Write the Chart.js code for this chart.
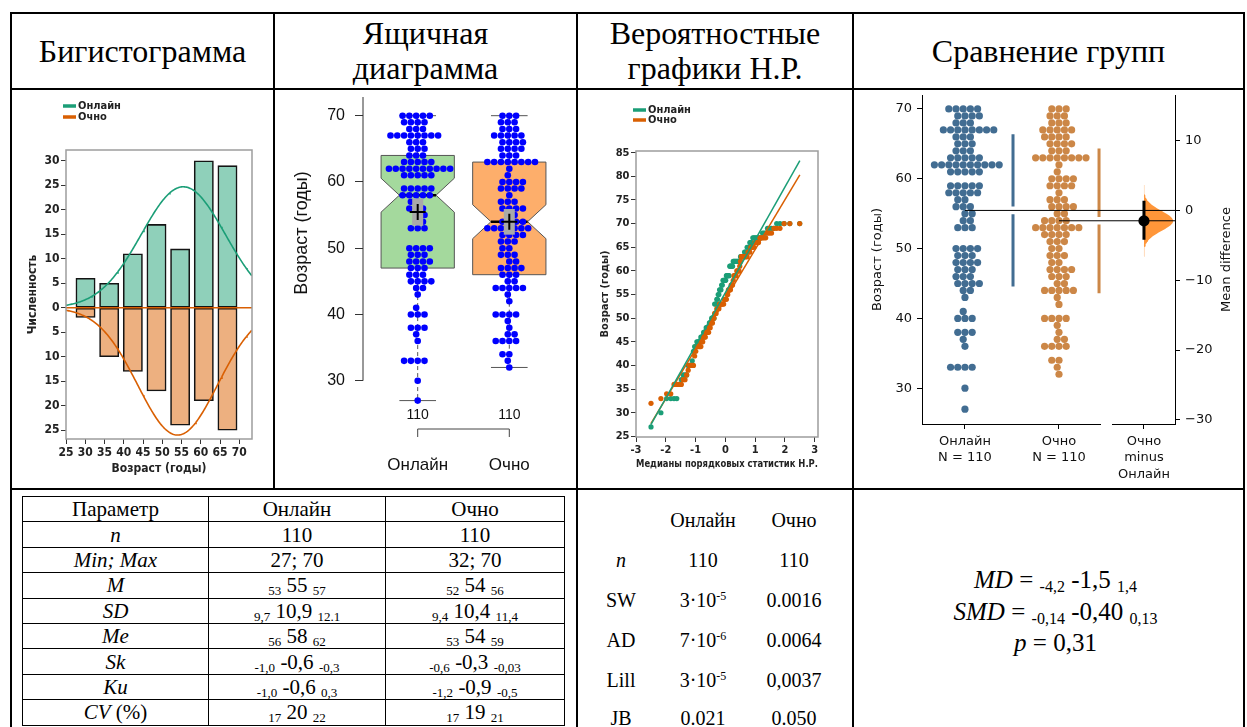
<!DOCTYPE html>
<html lang="ru">
<head>
<meta charset="utf-8">
<title>Возраст: онлайн и очно</title>
<script src="https://cdn.jsdelivr.net/npm/chart.js@4.4.1/dist/chart.umd.min.js"></script>
<style>
  html,body{margin:0;padding:0;background:#fff;}
  body{position:relative;width:1247px;height:727px;overflow:hidden;font-family:'Liberation Serif','Times New Roman',serif;color:#000;}
  .ln{position:absolute;background:#000;}
  .hd{position:absolute;top:14px;height:74px;display:flex;align-items:center;justify-content:center;text-align:center;font-size:32px;line-height:35px;}
  canvas{position:absolute;top:90px;}
  #stats{position:absolute;left:22px;top:496px;width:542px;border-collapse:collapse;table-layout:fixed;font-size:21px;}
  #stats td{border:1px solid #000;text-align:center;padding:0;height:24.4px;line-height:22px;white-space:nowrap;}
  .sb{font-size:13px;vertical-align:-3px;line-height:0;}
  .c{position:absolute;transform:translate(-50%,-50%);font-size:20px;white-space:nowrap;}
  .c sup{font-size:12px;vertical-align:7px;line-height:0;}
  .f{position:absolute;left:868px;width:375px;text-align:center;font-size:25px;line-height:31px;white-space:nowrap;}
  .f .sb{font-size:16px;vertical-align:-4px;}
</style>
</head>
<body>
<!-- table grid -->
<div class="ln" style="left:10px;top:12px;width:1235px;height:2px"></div>
<div class="ln" style="left:10px;top:88px;width:1235px;height:2px"></div>
<div class="ln" style="left:10px;top:488px;width:1235px;height:2px"></div>
<div class="ln" style="left:10px;top:12px;width:2px;height:715px"></div>
<div class="ln" style="left:1243px;top:12px;width:2px;height:715px"></div>
<div class="ln" style="left:273px;top:12px;width:2px;height:478px"></div>
<div class="ln" style="left:576px;top:12px;width:2px;height:715px"></div>
<div class="ln" style="left:852px;top:12px;width:2px;height:715px"></div>

<div class="hd" style="left:12px;width:261px">Бигистограмма</div>
<div class="hd" style="left:275px;width:301px">Ящичная<br>диаграмма</div>
<div class="hd" style="left:578px;width:274px">Вероятностные<br>графики Н.Р.</div>
<div class="hd" style="left:854px;width:389px">Сравнение групп</div>

<canvas id="hist" width="261" height="398" style="left:12px"></canvas>
<canvas id="box" width="301" height="398" style="left:275px"></canvas>
<canvas id="qq" width="274" height="398" style="left:578px"></canvas>
<canvas id="ga" width="389" height="398" style="left:854px"></canvas>

<table id="stats">
  <colgroup><col style="width:186px"><col style="width:177px"><col style="width:179px"></colgroup>
  <tr><td>Параметр</td><td>Онлайн</td><td>Очно</td></tr>
  <tr><td><i>n</i></td><td>110</td><td>110</td></tr>
  <tr><td><i>Min; Max</i></td><td>27; 70</td><td>32; 70</td></tr>
  <tr><td><i>M</i></td><td><span class="sb">53</span> 55 <span class="sb">57</span></td><td><span class="sb">52</span> 54 <span class="sb">56</span></td></tr>
  <tr><td><i>SD</i></td><td><span class="sb">9,7</span> 10,9 <span class="sb">12.1</span></td><td><span class="sb">9,4</span> 10,4 <span class="sb">11,4</span></td></tr>
  <tr><td><i>Me</i></td><td><span class="sb">56</span> 58 <span class="sb">62</span></td><td><span class="sb">53</span> 54 <span class="sb">59</span></td></tr>
  <tr><td><i>Sk</i></td><td><span class="sb">-1,0</span> -0,6 <span class="sb">-0,3</span></td><td><span class="sb">-0,6</span> -0,3 <span class="sb">-0,03</span></td></tr>
  <tr><td><i>Ku</i></td><td><span class="sb">-1,0</span> -0,6 <span class="sb">0,3</span></td><td><span class="sb">-1,2</span> -0,9 <span class="sb">-0,5</span></td></tr>
  <tr><td><i>CV</i> (%)</td><td><span class="sb">17</span> 20 <span class="sb">22</span></td><td><span class="sb">17</span> 19 <span class="sb">21</span></td></tr>
</table>

<div class="c" style="left:703px;top:520px">Онлайн</div>
<div class="c" style="left:794px;top:520px">Очно</div>
<div class="c" style="left:621px;top:560px"><i>n</i></div>
<div class="c" style="left:703px;top:560px">110</div>
<div class="c" style="left:794px;top:560px">110</div>
<div class="c" style="left:621px;top:600px">SW</div>
<div class="c" style="left:703px;top:600px">3·10<sup>-5</sup></div>
<div class="c" style="left:794px;top:600px">0.0016</div>
<div class="c" style="left:621px;top:640px">AD</div>
<div class="c" style="left:703px;top:640px">7·10<sup>-6</sup></div>
<div class="c" style="left:794px;top:640px">0.0064</div>
<div class="c" style="left:621px;top:680px">Lill</div>
<div class="c" style="left:703px;top:680px">3·10<sup>-5</sup></div>
<div class="c" style="left:794px;top:680px">0,0037</div>
<div class="c" style="left:621px;top:718px">JB</div>
<div class="c" style="left:703px;top:718px">0.021</div>
<div class="c" style="left:794px;top:718px">0.050</div>

<div class="f" style="top:564px"><i>MD</i> = <span class="sb">-4,2</span> -1,5 <span class="sb">1,4</span></div>
<div class="f" style="top:596px"><i>SMD</i> = <span class="sb">-0,14</span> -0,40 <span class="sb">0,13</span></div>
<div class="f" style="top:627px"><i>p</i> = 0,31</div>

<script>
// ---------- data: age (years) frequency tables per group ----------
const groups = ['Онлайн', 'Очно'];
const onlineAges   = [27,30,33,36,37,38,40,41,43,44,45,46,47,48,49,50,53,54,55,56,57,58,59,61,62,63,64,65,66,67,68,69,70];
const onlineCounts = [ 1, 1, 4, 1, 1, 3, 3, 1, 1, 2, 4, 3, 3, 4, 3, 4, 3, 2, 2, 3, 2, 5, 5, 5,10, 5, 3, 3, 3, 8, 3, 4, 5];
const ochnoAges    = [32,33,34,36,37,38,39,40,42,43,44,45,46,47,48,49,50,51,52,53,54,55,56,57,58,59,60,61,62,63,64,65,66,67,68,69,70];
const ochnoCounts  = [ 1, 1, 2, 4, 2, 1, 1, 4, 1, 1, 5, 2, 3, 4, 2, 3, 2, 3, 4, 7, 4, 2, 4, 3, 1, 4, 4, 1, 1, 8, 3, 4, 4, 5, 3, 3, 3];

// histogram bins
const binEdges  = [27, 33.14, 39.29, 45.43, 51.57, 57.71, 63.86, 70];
const binOnline = [6, 5, 11, 17, 12, 30, 29];
const binOchno  = [2, 10, 13, 17, 24, 19, 25];

// tick values
const histXTicks = [25, 30, 35, 40, 45, 50, 55, 60, 65, 70];
const histYTicks = [-25, -20, -15, -10, -5, 0, 5, 10, 15, 20, 25, 30];
const boxYTicks  = [30, 40, 50, 60, 70];
const qqXTicks   = [-3, -2, -1, 0, 1, 2, 3];
const qqYTicks   = [25, 30, 35, 40, 45, 50, 55, 60, 65, 70, 75, 80, 85];
const gaYTicks   = [30, 40, 50, 60, 70];
const gaDiffTicks = [10, 0, -10, -20, -30];

// reference lines of the probability plots (end points)
const qqLineOnline = [[-2.5, 27.5], [2.5, 83.3]];
const qqLineOchno  = [[-2.5, 27.7], [2.5, 80.3]];

// mean difference (Очно minus Онлайн) with its 95% CI
const mdEst = -1.5, mdLow = -4.2, mdHigh = 1.4;

// ---------- helpers ----------
const expand = (ages, counts) => ages.flatMap((a, i) => Array(counts[i]).fill(a));
const onlineAll = expand(onlineAges, onlineCounts);
const ochnoAll  = expand(ochnoAges, ochnoCounts);
const mean = a => a.reduce((s, v) => s + v, 0) / a.length;
const sdev = a => { const m = mean(a); return Math.sqrt(a.reduce((s, v) => s + (v - m) ** 2, 0) / (a.length - 1)); };

const cGreen = '#1b9e77', cOrange = '#d95f02';
const histFill = ['#8fd0ba', '#edb080'];
const boxFill = ['#a4d99d', '#fdae6b'];
const gaColors = ['#426d92', '#cc8747'];
const condBold = "'DejaVu Sans Condensed','DejaVu Sans',sans-serif";
const arial = "'Liberation Sans',Arial,sans-serif";
const dejavu = "'DejaVu Sans',sans-serif";

const base = { responsive: false, animation: false, events: [],
  plugins: { legend: { display: false }, tooltip: { enabled: false } } };

// fixed axis size without the automatic edge padding for tick labels
const fitTo = (prop, size) => s => {
  s[prop] = size;
  s.paddingTop = 0; s.paddingBottom = 0; s.paddingLeft = 0; s.paddingRight = 0;
};

function legendPlugin(x, y0, dy, size) {
  return { id: 'miniLegend', afterDraw(chart) {
    const ctx = chart.ctx; ctx.save();
    groups.forEach((g, i) => {
      const y = y0 + i * dy;
      ctx.strokeStyle = [cGreen, cOrange][i]; ctx.lineWidth = 3.5;
      ctx.beginPath(); ctx.moveTo(x, y); ctx.lineTo(x + 13, y); ctx.stroke();
      ctx.fillStyle = '#222'; ctx.font = `bold ${size}px ${condBold}`; ctx.textBaseline = 'middle';
      ctx.fillText(g, x + 15, y + 0.5);
    });
    ctx.restore();
  } };
}
const framePlugin = { id: 'frame', afterDatasetsDraw(chart) {
  const { ctx, chartArea: a } = chart; ctx.save();
  ctx.strokeStyle = '#9d9d9d'; ctx.lineWidth = 1.5;
  ctx.strokeRect(a.left, a.top, a.right - a.left, a.bottom - a.top); ctx.restore();
} };
const fixedTicks = vals => s => { s.ticks = vals.map(v => ({ value: v })); };

// ---------- 1. back-to-back histogram ----------
const binCenters = binOnline.map((_, i) => (binEdges[i] + binEdges[i + 1]) / 2);
const binWidth = binEdges[1] - binEdges[0];
function normalCurve(arr, sign, x0, x1) {
  const m = mean(arr), s = sdev(arr), pts = [];
  for (let x = x0; x <= x1 + 1e-9; x += 0.25)
    pts.push({ x, y: sign * arr.length * binWidth * Math.exp(-0.5 * ((x - m) / s) ** 2) / (s * Math.sqrt(2 * Math.PI)) });
  return pts;
}
const histMinX = 25, histMaxX = 73.3;
const tickStyle12 = { font: { family: condBold, weight: 'bold', size: 12 }, color: '#222', autoSkip: false, maxRotation: 0 };
new Chart(document.getElementById('hist'), {
  type: 'bar',
  data: { datasets: [
    { type: 'line', data: [{ x: histMinX, y: 0 }, { x: histMaxX, y: 0 }], borderColor: cOrange, borderWidth: 1.6, pointRadius: 0, order: 0 },
    { type: 'line', data: normalCurve(onlineAll, 1, histMinX, histMaxX), borderColor: cGreen, borderWidth: 1.6, pointRadius: 0, order: 1 },
    { type: 'line', data: normalCurve(ochnoAll, -1, histMinX, histMaxX), borderColor: cOrange, borderWidth: 1.6, pointRadius: 0, order: 1 },
    { type: 'bar', data: binOnline.map((c, i) => ({ x: binCenters[i], y: c })), backgroundColor: histFill[0], borderColor: '#141414',
      borderWidth: 1.6, borderSkipped: false, grouped: false, barPercentage: 1, categoryPercentage: 1, order: 2 },
    { type: 'bar', data: binOchno.map((c, i) => ({ x: binCenters[i], y: -c })), backgroundColor: histFill[1], borderColor: '#141414',
      borderWidth: 1.6, borderSkipped: false, grouped: false, barPercentage: 1, categoryPercentage: 1, order: 2 }
  ] },
  options: { ...base,
    layout: { autoPadding: false, padding: { top: 60, right: 21, left: 0, bottom: 0 } },
    scales: {
      x: { type: 'linear', min: histMinX, max: histMaxX, offset: false, afterBuildTicks: fixedTicks(histXTicks), afterFit: fitTo('height', 49),
        grid: { offset: false, drawOnChartArea: false, tickLength: 5, color: '#333' }, border: { display: false },
        ticks: { ...tickStyle12, padding: 2 },
        title: { display: true, text: 'Возраст (годы)', color: '#222', font: { family: condBold, weight: 'bold', size: 12 }, padding: { top: 0, bottom: 11.8 } } },
      y: { min: -26.8, max: 32.2, afterBuildTicks: fixedTicks(histYTicks), afterFit: fitTo('width', 54),
        grid: { drawOnChartArea: false, tickLength: 5, color: '#333' }, border: { display: false },
        ticks: { ...tickStyle12, padding: 1.5, callback: v => String(Math.abs(v)) },
        title: { display: true, text: 'Численность', color: '#222', font: { family: condBold, weight: 'bold', size: 12 }, padding: { top: 13.8, bottom: 0 } } }
    } },
  plugins: [framePlugin, legendPlugin(51, 16, 11, 11)]
});

// ---------- 2. notched box plot with swarm ----------
function fivenum(sorted) {
  const n = sorted.length, n4 = Math.floor((n + 3) / 2) / 2;
  return [1, n4, (n + 1) / 2, n + 1 - n4, n].map(k => 0.5 * (sorted[Math.floor(k) - 1] + sorted[Math.ceil(k) - 1]));
}
const boxStats = [onlineAll, ochnoAll].map(arr => {
  const s = arr.slice().sort((a, b) => a - b);
  const [lo, q1, med, q3, hi] = fivenum(s);
  const notch = 1.58 * (q3 - q1) / Math.sqrt(s.length);
  const m = mean(s), ci = 1.96 * sdev(s) / Math.sqrt(s.length);
  return { lo, q1, med, q3, hi, nLo: med - notch, nHi: med + notch, mean: m, mLo: m - ci, mHi: m + ci, n: s.length };
});
const boxHalf = 0.4, notchHalf = 0.2, capHalf = 0.2;
const boxPlugin = {
  id: 'boxes',
  beforeDatasetsDraw(chart) {
    const { ctx, scales: { x, y } } = chart;
    const X = v => x.getPixelForValue(v), Y = v => y.getPixelForValue(v);
    const seg = (a, b, c, d) => { ctx.beginPath(); ctx.moveTo(a, b); ctx.lineTo(c, d); ctx.stroke(); };
    ctx.save();
    boxStats.forEach((s, i) => {
      const cx = i + 1;
      ctx.strokeStyle = '#555'; ctx.lineWidth = 1;
      ctx.setLineDash([4, 3]);
      seg(X(cx), Y(s.q3), X(cx), Y(s.hi)); seg(X(cx), Y(s.q1), X(cx), Y(s.lo));
      ctx.setLineDash([]);
      seg(X(cx - capHalf), Y(s.hi), X(cx + capHalf), Y(s.hi));
      seg(X(cx - capHalf), Y(s.lo), X(cx + capHalf), Y(s.lo));
      ctx.beginPath();
      ctx.moveTo(X(cx - boxHalf), Y(s.q3)); ctx.lineTo(X(cx + boxHalf), Y(s.q3));
      ctx.lineTo(X(cx + boxHalf), Y(s.nHi)); ctx.lineTo(X(cx + notchHalf), Y(s.med));
      ctx.lineTo(X(cx + boxHalf), Y(s.nLo)); ctx.lineTo(X(cx + boxHalf), Y(s.q1));
      ctx.lineTo(X(cx - boxHalf), Y(s.q1)); ctx.lineTo(X(cx - boxHalf), Y(s.nLo));
      ctx.lineTo(X(cx - notchHalf), Y(s.med)); ctx.lineTo(X(cx - boxHalf), Y(s.nHi));
      ctx.closePath(); ctx.fillStyle = boxFill[i]; ctx.fill(); ctx.stroke();
      ctx.strokeStyle = '#000'; ctx.lineWidth = 2.5;
      seg(X(cx - notchHalf), Y(s.med), X(cx + notchHalf), Y(s.med));
    });
    ctx.restore();
  },
  afterDatasetsDraw(chart) {
    const { ctx, scales: { x, y } } = chart;
    ctx.save();
    boxStats.forEach((s, i) => {
      const px = x.getPixelForValue(i + 1);
      ctx.fillStyle = '#a9a9a9';
      ctx.fillRect(px - 5.5, y.getPixelForValue(s.mHi), 11, y.getPixelForValue(s.mLo) - y.getPixelForValue(s.mHi));
      const py = y.getPixelForValue(s.mean);
      ctx.strokeStyle = '#000'; ctx.lineWidth = 2;
      ctx.beginPath(); ctx.moveTo(px - 8, py); ctx.lineTo(px + 8, py); ctx.moveTo(px, py - 8); ctx.lineTo(px, py + 8); ctx.stroke();
    });
    ctx.restore();
  },
  afterDraw(chart) {
    const { ctx, chartArea: a, scales: { x, y } } = chart;
    ctx.save();
    ctx.strokeStyle = '#333'; ctx.lineWidth = 1;
    ctx.beginPath(); ctx.moveTo(a.left, a.top); ctx.lineTo(a.left, y.getPixelForValue(boxYTicks[0])); ctx.stroke();
    const x1 = x.getPixelForValue(1), x2 = x.getPixelForValue(2);
    ctx.fillStyle = '#111'; ctx.textAlign = 'center'; ctx.textBaseline = 'middle';
    ctx.font = `14px ${arial}`;
    boxStats.forEach((s, i) => ctx.fillText(String(s.n), x.getPixelForValue(i + 1), 325));
    ctx.strokeStyle = '#444';
    ctx.beginPath(); ctx.moveTo(x1, 347); ctx.lineTo(x1, 339); ctx.lineTo(x2, 339); ctx.lineTo(x2, 347); ctx.stroke();
    ctx.font = `17px ${arial}`;
    groups.forEach((g, i) => ctx.fillText(g, x.getPixelForValue(i + 1), 375));
    ctx.translate(27, 143); ctx.rotate(-Math.PI / 2);
    ctx.font = `18px ${arial}`; ctx.fillText('Возраст (годы)', 0, 0);
    ctx.restore();
  }
};
const boxChart = new Chart(document.getElementById('box'), {
  type: 'scatter',
  data: { datasets: [
    { data: onlineAll.map(v => ({ x: 1, y: v })), backgroundColor: '#0000ff', borderWidth: 0, pointRadius: 3.3, clip: false },
    { data: ochnoAll.map(v => ({ x: 2, y: v })), backgroundColor: '#0000ff', borderWidth: 0, pointRadius: 3.3, clip: false }
  ] },
  options: { ...base,
    layout: { autoPadding: false, padding: { top: 7, right: 10, left: 0, bottom: 78 } },
    scales: {
      x: { type: 'linear', min: 0.4028, max: 2.619, display: false },
      y: { min: 25.58, max: 72.82, afterBuildTicks: fixedTicks(boxYTicks), afterFit: fitTo('width', 88),
        grid: { drawOnChartArea: false, tickLength: 8, color: '#333' }, border: { display: false },
        ticks: { font: { family: arial, size: 16 }, color: '#111', padding: 10 } }
    } },
  plugins: [boxPlugin]
});

// ---------- 3. normal probability plots ----------
function normInv(p) {
  const a = [-3.969683028665376e+01, 2.209460984245205e+02, -2.759285104469687e+02, 1.383577518672690e+02, -3.066479806614716e+01, 2.506628277459239e+00];
  const b = [-5.447609879822406e+01, 1.615858368580409e+02, -1.556989798598866e+02, 6.680131188771972e+01, -1.328068155288572e+01];
  const c = [-7.784894002430293e-03, -3.223964580411365e-01, -2.400758277161838e+00, -2.549732539343734e+00, 4.374664141464968e+00, 2.938163982698783e+00];
  const d = [7.784695709041462e-03, 3.224671290700398e-01, 2.445134137142996e+00, 3.754408661907416e+00];
  const pl = 0.02425;
  if (p < pl) { const q = Math.sqrt(-2 * Math.log(p)); return (((((c[0]*q+c[1])*q+c[2])*q+c[3])*q+c[4])*q+c[5]) / ((((d[0]*q+d[1])*q+d[2])*q+d[3])*q+1); }
  if (p <= 1 - pl) { const q = p - 0.5, r = q * q; return (((((a[0]*r+a[1])*r+a[2])*r+a[3])*r+a[4])*r+a[5])*q / (((((b[0]*r+b[1])*r+b[2])*r+b[3])*r+b[4])*r+1); }
  const q = Math.sqrt(-2 * Math.log(1 - p)); return -(((((c[0]*q+c[1])*q+c[2])*q+c[3])*q+c[4])*q+c[5]) / ((((d[0]*q+d[1])*q+d[2])*q+d[3])*q+1);
}
function orderMedians(arr) {
  const s = arr.slice().sort((a, b) => a - b), n = s.length, last = Math.pow(0.5, 1 / n);
  return s.map((v, i) => {
    const k = i + 1;
    const m = k === 1 ? 1 - last : k === n ? last : (k - 0.3175) / (n + 0.365);
    return { x: normInv(m), y: v };
  });
}
const tickStyle11 = { font: { family: condBold, weight: 'bold', size: 11 }, color: '#222', autoSkip: false, maxRotation: 0 };
new Chart(document.getElementById('qq'), {
  type: 'scatter',
  data: { datasets: [
    { type: 'line', data: qqLineOnline.map(([x, y]) => ({ x, y })), borderColor: cGreen, borderWidth: 1.5, pointRadius: 0, order: 0 },
    { type: 'line', data: qqLineOchno.map(([x, y]) => ({ x, y })), borderColor: cOrange, borderWidth: 1.5, pointRadius: 0, order: 0 },
    { data: orderMedians(ochnoAll), backgroundColor: cOrange, borderWidth: 0, pointRadius: 2.6, order: 1 },
    { data: orderMedians(onlineAll), backgroundColor: cGreen, borderWidth: 0, pointRadius: 2.6, order: 2 }
  ] },
  options: { ...base,
    layout: { autoPadding: false, padding: { top: 61, right: 34, left: 0, bottom: 0 } },
    scales: {
      x: { min: -3, max: 3.11, afterBuildTicks: fixedTicks(qqXTicks), afterFit: fitTo('height', 51),
        grid: { drawOnChartArea: false, tickLength: 5, color: '#333' }, border: { display: false },
        ticks: { ...tickStyle11, padding: 2 },
        title: { display: true, text: 'Медианы порядковых статистик Н.Р.', color: '#222', font: { family: condBold, weight: 'bold', size: 11 }, padding: { top: 0, bottom: 17.4 } } },
      y: { min: 24.87, max: 85.36, afterBuildTicks: fixedTicks(qqYTicks), afterFit: fitTo('width', 58),
        grid: { drawOnChartArea: false, tickLength: 5, color: '#333' }, border: { display: false },
        ticks: { ...tickStyle11, padding: 1.5 },
        title: { display: true, text: 'Возраст (годы)', color: '#222', font: { family: condBold, weight: 'bold', size: 11 }, padding: { top: 20.4, bottom: 0 } } }
    } },
  plugins: [framePlugin, legendPlugin(55, 20, 10, 11)]
});

// ---------- 4. Gardner–Altman estimation plot ----------
const gaX = [0, 1], gaDiffX = 1.904, gaSdX = [0.511, 1.426], gaGap = 0.55;
const gaMinX = -0.457, gaMaxX = 2.234, gaMinY = 24.87, gaMaxY = 72.0;
const means = [mean(onlineAll), mean(ochnoAll)], sds = [sdev(onlineAll), sdev(ochnoAll)];
const sdBoot = (mdHigh - mdLow) / (2 * 1.959964), violinW = 0.31;
const violin = [{ x: gaDiffX, y: mdEst - 3.6 * sdBoot }];
for (let k = 0; k <= 90; k++) { const z = -3.6 + 7.2 * k / 90; violin.push({ x: gaDiffX + violinW * Math.exp(-0.5 * z * z), y: mdEst + z * sdBoot }); }
violin.push({ x: gaDiffX, y: mdEst + 3.6 * sdBoot });
const gaTickLabels = [[groups[0], 'N = ' + onlineAll.length], [groups[1], 'N = ' + ochnoAll.length], [groups[1], 'minus', groups[0]]];
const gaSdLine = i => [{ x: gaSdX[i], y: means[i] + sds[i] }, { x: gaSdX[i], y: means[i] + gaGap }, { x: gaSdX[i], y: null },
  { x: gaSdX[i], y: means[i] - gaGap }, { x: gaSdX[i], y: means[i] - sds[i] }];
const gaPlugin = { id: 'gaExtras', afterDraw(chart) {
  const { ctx, chartArea: a, scales: { x } } = chart;
  ctx.save(); ctx.strokeStyle = '#000'; ctx.lineWidth = 1;
  ctx.beginPath();
  ctx.moveTo(a.left, a.bottom + 0.5); ctx.lineTo(x.getPixelForValue(1.447), a.bottom + 0.5);
  ctx.moveTo(x.getPixelForValue(1.564), a.bottom + 0.5); ctx.lineTo(a.right, a.bottom + 0.5);
  ctx.stroke();
  ctx.fillStyle = '#111'; ctx.font = `13px ${dejavu}`; ctx.textAlign = 'center'; ctx.textBaseline = 'middle';
  ctx.translate(373, (a.top + a.bottom) / 2); ctx.rotate(-Math.PI / 2); ctx.fillText('Mean difference', 0, 0);
  ctx.restore();
} };
const gaChart = new Chart(document.getElementById('ga'), {
  type: 'scatter',
  data: { datasets: [
    { data: [{ x: gaDiffX, y: mdEst }], yAxisID: 'y2', backgroundColor: '#000', borderWidth: 0, pointRadius: 5.6, order: 0 },
    { type: 'line', data: [{ x: gaDiffX, y: mdHigh }, { x: gaDiffX, y: mdLow }], yAxisID: 'y2', borderColor: '#000', borderWidth: 3, pointRadius: 0, order: 1 },
    { type: 'line', data: [{ x: gaX[0], y: means[0] }, { x: gaMaxX, y: means[0] }], borderColor: '#000', borderWidth: 1, pointRadius: 0, order: 2 },
    { type: 'line', data: [{ x: gaX[1], y: means[1] }, { x: gaMaxX, y: means[1] }], borderColor: '#000', borderWidth: 1, pointRadius: 0, order: 2 },
    { type: 'line', data: violin, yAxisID: 'y2', borderWidth: 0, borderColor: 'rgba(0,0,0,0)', backgroundColor: 'rgba(255,127,14,0.82)', fill: 'shape', pointRadius: 0, order: 3 },
    { type: 'line', data: gaSdLine(0), borderColor: gaColors[0], borderWidth: 3, pointRadius: 0, spanGaps: false, order: 4 },
    { type: 'line', data: gaSdLine(1), borderColor: gaColors[1], borderWidth: 3, pointRadius: 0, spanGaps: false, order: 4 },
    { data: onlineAll.map(v => ({ x: gaX[0], y: v })), backgroundColor: gaColors[0], borderWidth: 0, pointRadius: 3.6, order: 5 },
    { data: ochnoAll.map(v => ({ x: gaX[1], y: v })), backgroundColor: gaColors[1], borderWidth: 0, pointRadius: 3.6, order: 5 }
  ] },
  options: { ...base,
    layout: { autoPadding: false, padding: { top: 5, right: 0, left: 0, bottom: 0 } },
    scales: {
      x: { min: gaMinX, max: gaMaxX, afterBuildTicks: fixedTicks([gaX[0], gaX[1], gaDiffX]), afterFit: fitTo('height', 64),
        grid: { drawOnChartArea: false, tickLength: 5, color: '#000' }, border: { display: false },
        ticks: { font: { family: dejavu, size: 13, lineHeight: 1.27 }, color: '#111', padding: 4, autoSkip: false, maxRotation: 0,
          callback: (v, i) => gaTickLabels[i] } },
      y: { position: 'left', min: gaMinY, max: gaMaxY, afterBuildTicks: fixedTicks(gaYTicks), afterFit: fitTo('width', 68),
        grid: { drawOnChartArea: false, tickLength: 5, color: '#000' }, border: { display: true, color: '#000', width: 1 },
        ticks: { font: { family: dejavu, size: 13 }, color: '#111', padding: 5 },
        title: { display: true, text: 'Возраст (годы)', color: '#111', font: { family: dejavu, size: 13 }, padding: { top: 16.2, bottom: 0 } } },
      y2: { position: 'right', min: gaMinY - means[0], max: gaMaxY - means[0], afterBuildTicks: fixedTicks(gaDiffTicks), afterFit: fitTo('width', 68),
        grid: { drawOnChartArea: false, tickLength: 5, color: '#000' }, border: { display: true, color: '#000', width: 1 },
        ticks: { font: { family: dejavu, size: 13 }, color: '#111', padding: 5, callback: v => v < 0 ? '\u2212' + Math.abs(v) : String(v) } }
    } },
  plugins: [gaPlugin]
});

// ---------- swarm layout (computed in pixel space from the chart scales) ----------
function swarm(chart, values, center, diam) {
  const xs = chart.scales.x, ys = chart.scales.y;
  const pxPerUnit = xs.getPixelForValue(1) - xs.getPixelForValue(0);
  const placed = [];
  return values.slice().sort((a, b) => a - b).map(v => {
    const py = ys.getPixelForValue(v);
    const iv = [];
    placed.forEach(p => {
      const dy = Math.abs(p.y - py);
      if (dy < diam) { const dx = Math.sqrt(diam * diam - dy * dy); iv.push([p.x - dx, p.x + dx]); }
    });
    const cands = [0];
    iv.forEach(([l, r]) => cands.push(l, r));
    cands.sort((a, b) => Math.abs(a) - Math.abs(b));
    let best = 0;
    for (const c of cands) { if (iv.every(([l, r]) => c <= l + 1e-6 || c >= r - 1e-6)) { best = c; break; } }
    placed.push({ x: best, y: py });
    return { x: center + best / pxPerUnit, y: v };
  });
}
boxChart.data.datasets[0].data = swarm(boxChart, onlineAll, 1, 6.8);
boxChart.data.datasets[1].data = swarm(boxChart, ochnoAll, 2, 6.8);
boxChart.update('none');
gaChart.data.datasets[7].data = swarm(gaChart, onlineAll, gaX[0], 7.2);
gaChart.data.datasets[8].data = swarm(gaChart, ochnoAll, gaX[1], 7.2);
gaChart.update('none');
</script>
</body>
</html>
